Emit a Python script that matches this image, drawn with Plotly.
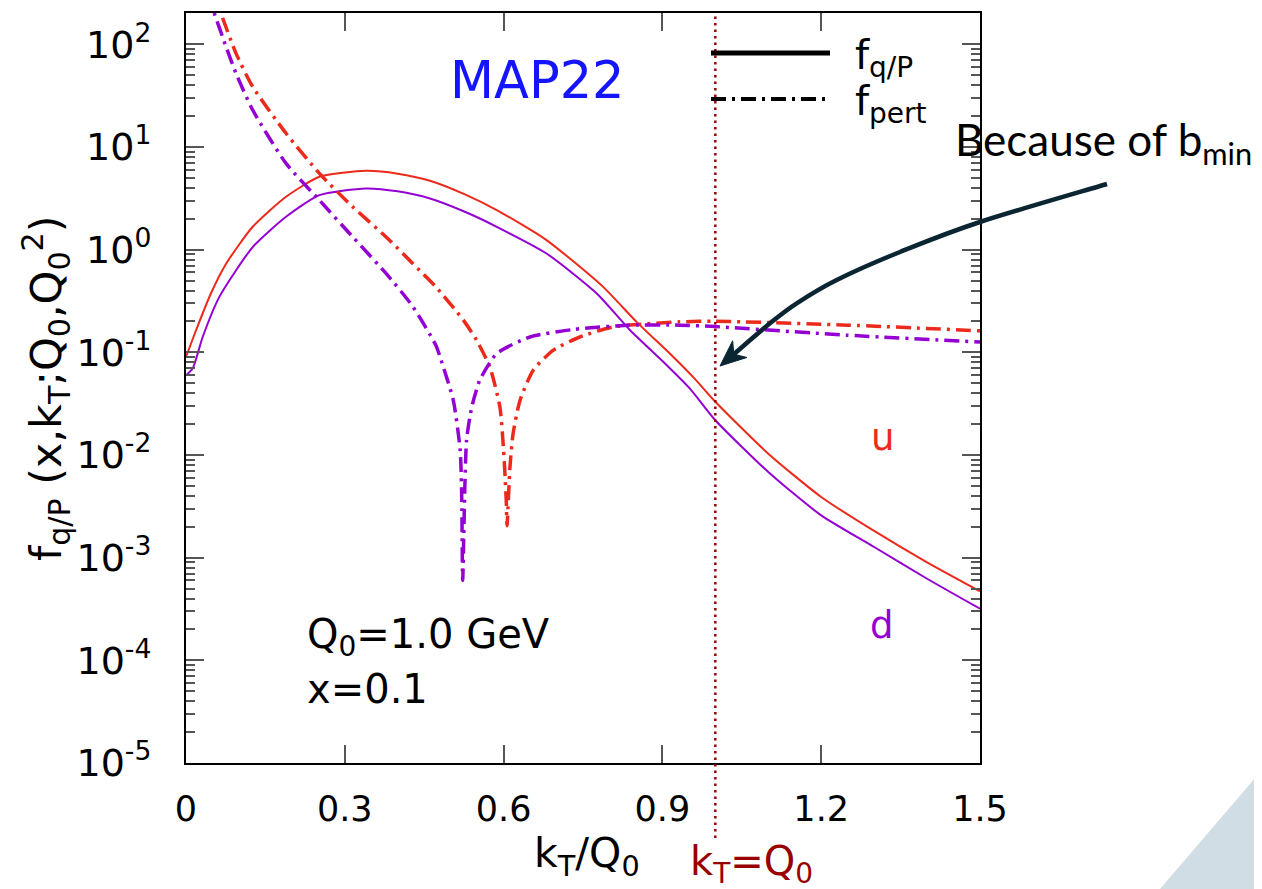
import plotly.graph_objects as go

# ---------------- data ----------------
u_fqp_x = [0, 0.019, 0.047, 0.076, 0.126, 0.189, 0.252, 0.34, 0.40, 0.461, 0.53, 0.587, 0.681,
           0.788, 0.851, 0.914, 0.96, 1.0, 1.1, 1.2, 1.3, 1.4, 1.5]
u_fqp_y = [0.090, 0.164, 0.374, 0.733, 1.67, 3.27, 5.13, 5.86, 5.5, 4.69, 3.4, 2.43, 1.24,
           0.434, 0.198, 0.0973, 0.056, 0.033, 0.0103, 0.0039, 0.00182, 0.0009, 0.00047]

d_fqp_x = [0, 0.0126, 0.0315, 0.063, 0.126, 0.189, 0.252, 0.34, 0.40, 0.461, 0.53, 0.587, 0.681, 0.776,
           0.839, 0.902, 0.952, 1.0, 1.1, 1.2, 1.3, 1.4, 1.5]
d_fqp_y = [0.0598, 0.0695, 0.141, 0.347, 1.06, 2.09, 3.40, 3.95, 3.7, 3.15, 2.3, 1.67, 0.918, 0.374,
           0.164, 0.0805, 0.0443, 0.0218, 0.00683, 0.00258, 0.00127, 0.000623, 0.000318]

u_pert_x = [0.05, 0.066, 0.0945, 0.126, 0.189, 0.252, 0.315, 0.378, 0.441, 0.472, 0.524, 0.549, 0.574,
            0.593, 0.600, 0.605, 0.6065, 0.612, 0.618, 0.631, 0.656, 0.694, 0.744, 0.807, 0.933, 1.0,
            1.25, 1.5]
u_pert_y = [340, 200, 81.6, 38.6, 13.6, 5.53, 2.61, 1.33, 0.631, 0.434, 0.206, 0.131, 0.072,
            0.0294, 0.0111, 0.0036, 0.00205, 0.0076, 0.0162, 0.034, 0.067, 0.105, 0.141, 0.177, 0.198, 0.201,
            0.184, 0.162]

d_pert_x = [0.04, 0.0535, 0.0756, 0.0945, 0.126, 0.189, 0.252, 0.315, 0.378, 0.429, 0.472, 0.48, 0.505,
            0.518, 0.521, 0.5227, 0.530, 0.540, 0.555, 0.587, 0.650, 0.732, 0.839, 0.933, 1.0, 1.248, 1.5]
d_pert_y = [315, 200, 94.8, 52.1, 22.9, 6.92, 3.03, 1.33, 0.586, 0.277, 0.117, 0.090, 0.034,
            0.0111, 0.0036, 0.0006, 0.0139, 0.0294, 0.0535, 0.0973, 0.141, 0.167, 0.184, 0.184, 0.178, 0.147, 0.126]

x_tickvals = [0, 0.3, 0.6, 0.9, 1.2, 1.5]
x_ticktext = ["0", "0.3", "0.6", "0.9", "1.2", "1.5"]
y_tickvals = [1e-5, 1e-4, 1e-3, 1e-2, 1e-1, 1e0, 1e1, 1e2]
y_ticktext = ["10<sup>-5</sup>", "10<sup>-4</sup>", "10<sup>-3</sup>", "10<sup>-2</sup>",
              "10<sup>-1</sup>", "10<sup>0</sup>", "10<sup>1</sup>", "10<sup>2</sup>"]
kT_eq_Q0 = 1.0

# ---------------- style ----------------
RED = "#ec2a1c"
PURPLE = "#9400d3"
DARKRED = "#990000"
NAVY = "#0b2533"
FONT = "DejaVu Sans"
DASHDOT = "15px,6px,3px,6px"

OFF = 8  # page body margin offset
W, H = 1262 - OFF, 889 - OFF
L, T = 186 - OFF, 13 - OFF
PW, PH = 794, 750
R, B = W - L - PW, H - T - PH


def px(X):
    return (X - OFF - L) / PW


def py(Y):
    return (T + PH - (Y - OFF)) / PH


fig = go.Figure()
SM = 0.6
fig.add_trace(go.Scatter(x=u_fqp_x, y=u_fqp_y, mode="lines",
                         line=dict(color=RED, width=2, shape="spline", smoothing=SM), showlegend=False))
fig.add_trace(go.Scatter(x=d_fqp_x, y=d_fqp_y, mode="lines",
                         line=dict(color=PURPLE, width=2, shape="spline", smoothing=SM), showlegend=False))
fig.add_trace(go.Scatter(x=u_pert_x, y=u_pert_y, mode="lines",
                         line=dict(color=RED, width=3.5, dash=DASHDOT, shape="spline", smoothing=SM),
                         showlegend=False))
fig.add_trace(go.Scatter(x=d_pert_x, y=d_pert_y, mode="lines",
                         line=dict(color=PURPLE, width=3.5, dash=DASHDOT, shape="spline", smoothing=SM),
                         showlegend=False))

minor_vals = [m * 10.0 ** e for e in range(-5, 3) for m in range(2, 10)]

fig.update_xaxes(range=[0, 1.5], tickmode="array", tickvals=x_tickvals, ticktext=x_ticktext,
                 ticks="inside", ticklen=18, tickwidth=2, tickcolor="#555555",
                 showline=True, linecolor="black", linewidth=2, mirror="allticks",
                 showgrid=False, zeroline=False, ticklabelstandoff=14,
                 tickfont=dict(family=FONT, size=35, color="black"))
fig.update_yaxes(type="log", range=[-5, 2.305], tickmode="array", tickvals=y_tickvals, ticktext=y_ticktext,
                 ticks="inside", ticklen=18, tickwidth=2, tickcolor="#555555",
                 minor=dict(tickmode="array", tickvals=minor_vals, ticks="inside", ticklen=9,
                            tickwidth=2, tickcolor="#555555", showgrid=False),
                 showline=True, linecolor="black", linewidth=2, mirror="allticks",
                 showgrid=False, zeroline=False, ticklabelstandoff=25,
                 tickfont=dict(family=FONT, size=38, color="black"))

# ---------------- arrow (decoration) ----------------
arrow_pts = [(1107, 184), (980, 222), (900, 252), (836.7, 280), (796.7, 303.3), (770, 323.3), (734, 354)]
tip = (720, 366)
pp = [(px(a), py(b)) for a, b in arrow_pts]
path = "M %.5f,%.5f" % pp[0]
for i in range(len(pp) - 1):
    p0 = pp[i - 1] if i > 0 else pp[i]
    p1, p2 = pp[i], pp[i + 1]
    p3 = pp[i + 2] if i + 2 < len(pp) else pp[i + 1]
    c1 = (p1[0] + (p2[0] - p0[0]) / 6, p1[1] + (p2[1] - p0[1]) / 6)
    c2 = (p2[0] - (p3[0] - p1[0]) / 6, p2[1] - (p3[1] - p1[1]) / 6)
    path += " C %.5f,%.5f %.5f,%.5f %.5f,%.5f" % (c1[0], c1[1], c2[0], c2[1], p2[0], p2[1])

dx, dy = tip[0] - 770, tip[1] - 323.3
nrm = (dx * dx + dy * dy) ** 0.5
dx, dy = dx / nrm, dy / nrm
nx, ny = -dy, dx
HL, HW = 26, 11
bx, by = tip[0] - HL * dx, tip[1] - HL * dy
w1 = (bx + HW * nx, by + HW * ny)
w2 = (bx - HW * nx, by - HW * ny)
notch = (tip[0] - 0.7 * HL * dx, tip[1] - 0.7 * HL * dy)
head = "M %.5f,%.5f L %.5f,%.5f L %.5f,%.5f L %.5f,%.5f Z" % (
    px(tip[0]), py(tip[1]), px(w1[0]), py(w1[1]), px(notch[0]), py(notch[1]), px(w2[0]), py(w2[1]))

shapes = [
    dict(type="path", xref="paper", yref="paper",
         path="M %.5f,%.5f L %.5f,%.5f L %.5f,%.5f Z" % (px(1160), py(889), px(1262), py(770), px(1262), py(889)),
         fillcolor="#d0dde4", line=dict(width=0), layer="below"),
    dict(type="line", xref="x", yref="paper", x0=kT_eq_Q0, x1=kT_eq_Q0, y0=py(838), y1=1,
         line=dict(color=DARKRED, width=2.5, dash="2.5px,4px")),
    dict(type="line", xref="paper", yref="paper", x0=px(711), x1=px(830), y0=py(53), y1=py(53),
         line=dict(color="black", width=5)),
    dict(type="line", xref="paper", yref="paper", x0=px(711), x1=px(830), y0=py(99), y1=py(99),
         line=dict(color="black", width=4, dash=DASHDOT)),
    dict(type="path", xref="paper", yref="paper", path=path, line=dict(color=NAVY, width=4.5)),
    dict(type="path", xref="paper", yref="paper", path=head, fillcolor=NAVY, line=dict(color=NAVY, width=1)),
]


def ann(text, X, Y, size=35, color="black", xanchor="center", yanchor="middle", family=FONT, angle=0):
    return dict(text=text, x=px(X), y=py(Y), xref="paper", yref="paper", showarrow=False,
                xanchor=xanchor, yanchor=yanchor, textangle=angle,
                font=dict(family=family, size=size, color=color))


annotations = [
    ann("MAP22", 537, 80, size=51, color="#1414ff"),
    ann("f<sub>q/P</sub>", 853, 58, size=40, xanchor="left"),
    ann("f<sub>pert</sub>", 853, 104, size=40, xanchor="left"),
    ann("Because of b<sub>min</sub>", 953, 142, size=44, xanchor="left", family="Lato"),
    ann("u", 882, 437, size=37, color=RED),
    ann("d", 882, 625, size=37, color=PURPLE),
    ann("Q<sub>0</sub>=1.0 GeV", 305, 637, size=40, xanchor="left"),
    ann("x=0.1", 305, 689, size=40, xanchor="left"),
    ann("f<sub>q/P</sub> (x,k<sub>T</sub>;Q<sub>0</sub>,Q<sub>0</sub><sup>2</sup>)", 46, 388, size=43, angle=-90),
    ann("k<sub>T</sub>/Q<sub>0</sub>", 587, 856, size=41),
    ann("k<sub>T</sub>=Q<sub>0</sub>", 751, 864, size=40, color=DARKRED),
]

fig.update_layout(width=W, height=H, margin=dict(l=L, r=R, t=T, b=B, autoexpand=False),
                  paper_bgcolor="white", plot_bgcolor="white", showlegend=False,
                  shapes=shapes, annotations=annotations)

fig.write_html("out.html")
